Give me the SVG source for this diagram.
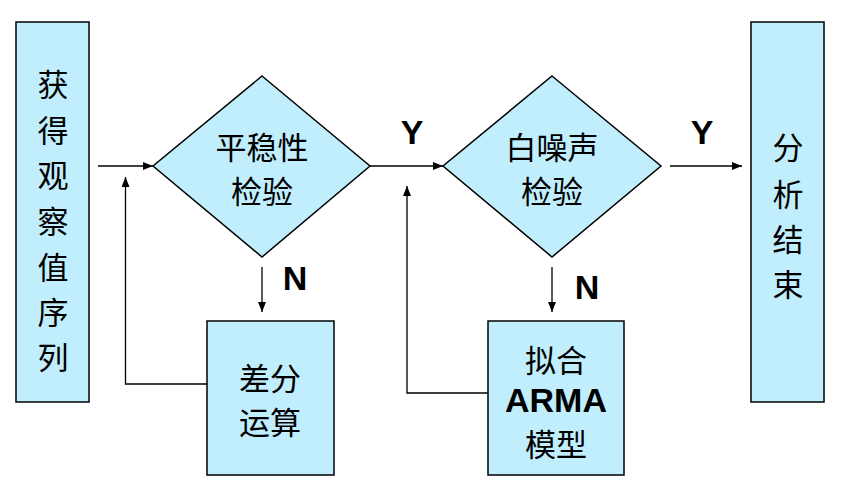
<svg xmlns="http://www.w3.org/2000/svg" width="844" height="495" viewBox="0 0 844 495">
<style>
.box{fill:#C0EEFC;stroke:#000;stroke-width:1.5}
.cjk{font-family:"Noto Sans CJK SC","Noto Sans CJK JP",sans-serif;font-size:31px;fill:#000;text-anchor:middle;dominant-baseline:central}
.lat{font-family:"Liberation Sans",Arial,sans-serif;font-weight:bold;font-size:34px;fill:#000;text-anchor:middle;dominant-baseline:central}
.con{fill:none;stroke:#000;stroke-width:1.3}
</style>
<defs>
<marker id="ah" markerWidth="10" markerHeight="8" refX="10" refY="4" orient="auto" markerUnits="userSpaceOnUse">
<path d="M0,0 L10,4 L0,8 Z" fill="#000"/>
</marker>
</defs>
<rect width="844" height="495" fill="#fff"/>
<g id="connectors">
<line class="con" x1="98" y1="166" x2="153" y2="166" marker-end="url(#ah)"/>
<line class="con" x1="370" y1="166" x2="443" y2="166" marker-end="url(#ah)"/>
<line class="con" x1="670" y1="166" x2="742" y2="166" marker-end="url(#ah)"/>
<line class="con" x1="262" y1="267" x2="262" y2="312" marker-end="url(#ah)"/>
<line class="con" x1="552" y1="267" x2="552" y2="312" marker-end="url(#ah)"/>
<polyline class="con" points="207,384 125.5,384 125.5,177" marker-end="url(#ah)"/>
<polyline class="con" points="488,393 407,393 407,186" marker-end="url(#ah)"/>
<text class="lat" x="412" y="132">Y</text>
<text class="lat" x="702" y="132">Y</text>
<text class="lat" x="295" y="278">N</text>
<text class="lat" x="587" y="287">N</text>
</g>
<g id="start">
<rect class="box" x="16" y="22" width="73" height="380"/>
<text class="cjk" x="53" y="82">获</text>
<text class="cjk" x="53" y="128">得</text>
<text class="cjk" x="53" y="173">观</text>
<text class="cjk" x="53" y="219">察</text>
<text class="cjk" x="53" y="265">值</text>
<text class="cjk" x="53" y="310">序</text>
<text class="cjk" x="53" y="355">列</text>
</g>
<g id="stationarity">
<polygon class="box" points="262,76 370,166 262,257 153,166"/>
<text class="cjk" x="262" y="145">平稳性</text>
<text class="cjk" x="262" y="189">检验</text>
</g>
<g id="whitenoise">
<polygon class="box" points="552,76 661,166 552,257 443,166"/>
<text class="cjk" x="552" y="145">白噪声</text>
<text class="cjk" x="552" y="189">检验</text>
</g>
<g id="diff">
<rect class="box" x="207" y="321" width="127" height="154"/>
<text class="cjk" x="270" y="376">差分</text>
<text class="cjk" x="270" y="420">运算</text>
</g>
<g id="arma">
<rect class="box" x="488" y="321" width="136" height="154"/>
<text class="cjk" x="556" y="358">拟合</text>
<text class="lat" x="556" y="400">ARMA</text>
<text class="cjk" x="556" y="442">模型</text>
</g>
<g id="end">
<rect class="box" x="751" y="22" width="73" height="380"/>
<text class="cjk" x="788" y="145">分</text>
<text class="cjk" x="788" y="192">析</text>
<text class="cjk" x="788" y="237">结</text>
<text class="cjk" x="788" y="282">束</text>
</g>
</svg>
